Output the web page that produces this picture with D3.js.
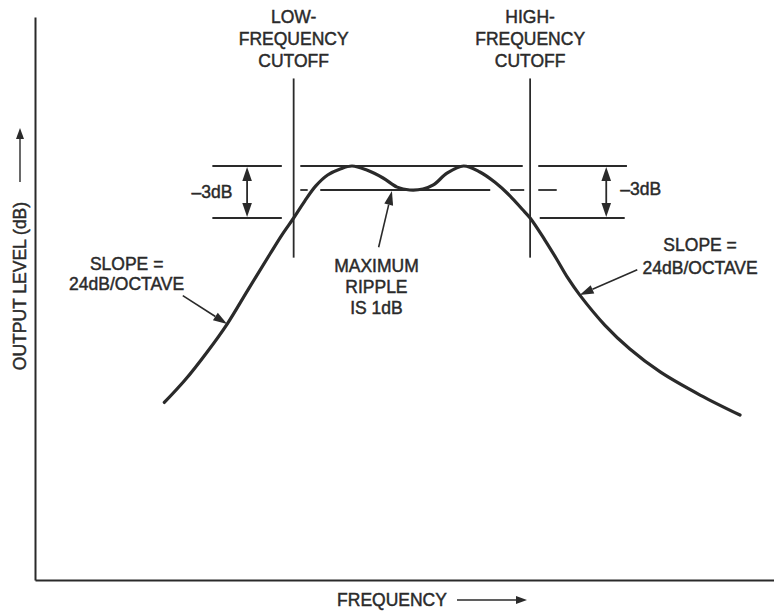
<!DOCTYPE html>
<html>
<head>
<meta charset="utf-8">
<script src="https://cdn.jsdelivr.net/npm/d3@7"></script>
<style>
  body { margin: 0; background: #fff; }
  text { font-family: "Liberation Sans", Arial, Helvetica, sans-serif; font-size: 17.5px;
         fill: #2a2a2a; stroke: #2a2a2a; stroke-width: 0.45px; }
</style>
</head>
<body>
<svg id="chart" width="774" height="612"></svg>
<script>
// Band-pass response: frequency in relative units, output level in dB
const freq  = [17.5, 20.3, 23.3, 26.0, 28.8, 31.8, 33.4, 35.0, 36.5, 38.0, 39.6, 41.3, 42.9,
               44.9, 47.1, 49.0, 50.7, 52.5, 53.9, 55.8, 58.0,
               60.2, 62.2, 64.3, 65.9, 67.0, 69.0, 70.5, 72.1, 73.7, 77.1, 80.5, 84.6, 90.0, 95.4];
const level = [-13.7, -12.4, -10.77, -9.15, -7.18, -5.09, -3.99, -3.0, -1.79, -0.83, -0.375, -0.125, 0,
               -0.17, -0.5, -0.88, -1.0, -0.96, -0.79, -0.29, 0,
               -0.25, -0.67, -1.43, -2.36, -3.0, -4.28, -5.32, -6.48, -7.46, -9.21, -10.6, -11.93, -13.27, -14.43];

// Cutoff frequencies and the vertical extent of their markers (dB)
const cutoffFreqs = [35, 67];
const cutoffNames = [["LOW-", "FREQUENCY", "CUTOFF"], ["HIGH-", "FREQUENCY", "CUTOFF"]];
const cutoffSpan = [4.7, -5.3];

// Reference levels (dB)
const passbandTop = 0;
const rippleFloor = -1;
const halfPower = -3;

// Horizontal reference segments [from, to] in frequency units
const topSegments       = [[24.0, 33.4], [35.9, 66.0], [68.1, 80.1]];
const halfPowerSegments = [[24.0, 33.4], [68.3, 79.8]];
const rippleSegments    = [[35.9, 36.9], [38.6, 61.6], [64.3, 66.2], [68.1, 70.6]];
const bracketFreqs = [28.7, 77.3];

const svg = d3.select("#chart");
const ink = "#2a2a2a";

const x = d3.scaleLinear().domain([0, 100]).range([35, 774]);
const y = d3.scaleLinear().domain([8, 0, -1, -3, -24]).range([17, 166, 190, 218, 580]);

// Axes without ticks
svg.append("g").attr("transform", `translate(${x(0)},0)`)
  .call(d3.axisLeft(y).tickValues([]).tickSizeOuter(0))
  .select(".domain").attr("stroke", ink).attr("stroke-width", 2);
svg.append("g").attr("transform", `translate(0,${y(-24)})`)
  .call(d3.axisBottom(x).tickValues([]).tickSizeOuter(0))
  .select(".domain").attr("stroke", ink).attr("stroke-width", 2);

// Line with a filled arrowhead pointing to (x2, y2)
function arrow(g, x1, y1, x2, y2, len = 13, half = 4.5, width = 1.6) {
  const a = Math.atan2(y2 - y1, x2 - x1);
  const bx = x2 - len * Math.cos(a), by = y2 - len * Math.sin(a);
  g.append("line").attr("x1", x1).attr("y1", y1).attr("x2", bx).attr("y2", by)
    .attr("stroke", ink).attr("stroke-width", width);
  const px = -Math.sin(a) * half, py = Math.cos(a) * half;
  g.append("path")
    .attr("d", `M${x2},${y2}L${bx + px},${by + py}L${bx - px},${by - py}Z`)
    .attr("fill", ink);
}

const ann = svg.append("g");

// Reference lines
function segs(list, lvl, w) {
  ann.selectAll(null).data(list).join("line")
    .attr("x1", d => x(d[0])).attr("x2", d => x(d[1]))
    .attr("y1", y(lvl)).attr("y2", y(lvl))
    .attr("stroke", ink).attr("stroke-width", w);
}
segs(topSegments, passbandTop, 1.8);
segs(halfPowerSegments, halfPower, 1.8);
segs(rippleSegments, rippleFloor, 1.8);

// Cutoff markers
ann.selectAll(null).data(cutoffFreqs).join("line")
  .attr("x1", d => x(d)).attr("x2", d => x(d))
  .attr("y1", y(cutoffSpan[0])).attr("y2", y(cutoffSpan[1]))
  .attr("stroke", ink).attr("stroke-width", 1.8);

cutoffFreqs.forEach((f, i) => {
  const t = ann.append("text").attr("text-anchor", "middle");
  cutoffNames[i].forEach((s, j) => {
    t.append("tspan").attr("x", x(f)).attr("y", 23 + 22 * j).text(s);
  });
});

// -3 dB brackets (double arrows)
bracketFreqs.forEach(f => {
  const xm = x(f), yt = y(passbandTop) + 1, yb = y(halfPower) - 1, ym = (yt + yb) / 2;
  arrow(ann, xm, ym, xm, yt, 14, 4.8, 1.8);
  arrow(ann, xm, ym, xm, yb, 14, 4.8, 1.8);
});
ann.append("text").attr("x", x(26.7)).attr("y", y(-1.15)).attr("dy", "0.35em")
  .attr("text-anchor", "end").text("\u20133dB");
ann.append("text").attr("x", x(79.2)).attr("y", y(-0.95)).attr("dy", "0.35em")
  .attr("text-anchor", "start").text("\u20133dB");

// Response curve
const pts = freq.map((f, i) => [f, level[i]]);
svg.append("path").datum(pts)
  .attr("fill", "none").attr("stroke", ink).attr("stroke-width", 3.2)
  .attr("stroke-linecap", "round")
  .attr("d", d3.line().x(d => x(d[0])).y(d => y(d[1])).curve(d3.curveCatmullRom.alpha(0.5)));

// Ripple note
const rip = ann.append("text").attr("text-anchor", "middle");
[["MAXIMUM", 272], ["RIPPLE", 293], ["IS 1dB", 314]].forEach(([s, b]) =>
  rip.append("tspan").attr("x", x(46.2)).attr("y", b).text(s));
arrow(ann, x(46.5), y(-4.7), x(48.3), y(-1.07), 14, 4.5, 1.6);

// Slope notes
const sl = ann.append("text").attr("text-anchor", "middle");
[["SLOPE =", 270], ["24dB/OCTAVE", 290]].forEach(([s, b]) =>
  sl.append("tspan").attr("x", x(12.4)).attr("y", b).text(s));
arrow(ann, x(20.0), y(-7.5), x(26.0), y(-9.15), 14, 4.5, 1.6);

const sr = ann.append("text").attr("text-anchor", "middle");
[["SLOPE =", 251], ["24dB/OCTAVE", 274]].forEach(([s, b]) =>
  sr.append("tspan").attr("x", x(90)).attr("y", b).text(s));
arrow(ann, x(81.5), y(-6.0), x(73.7), y(-7.46), 14, 4.5, 1.6);

// Axis titles
svg.append("text").attr("text-anchor", "middle")
  .attr("transform", "translate(26,286) rotate(-90)").text("OUTPUT LEVEL (dB)");
arrow(svg, 20, 182, 20, 128, 11, 4, 1.4);

svg.append("text").attr("x", 392).attr("y", 606).attr("text-anchor", "middle").text("FREQUENCY");
arrow(svg, 457, 600, 527, 600, 11, 4, 1.4);
</script>
</body>
</html>
